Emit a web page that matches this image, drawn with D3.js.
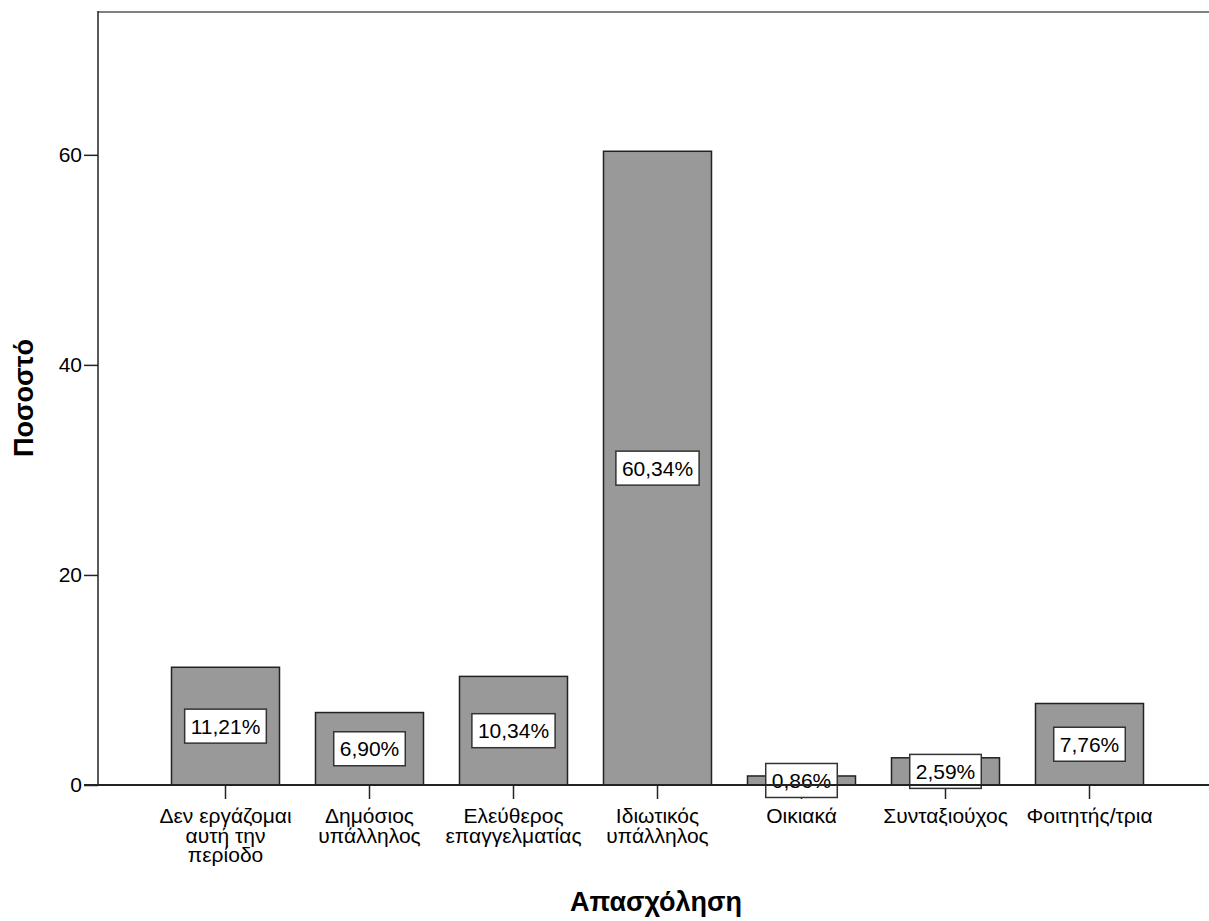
<!DOCTYPE html>
<html>
<head>
<meta charset="utf-8">
<script src="https://cdn.jsdelivr.net/npm/d3@7/dist/d3.min.js"></script>
<style>
  html, body { margin: 0; padding: 0; background: #fff; }
  svg { display: block; }
  text { font-family: "Liberation Sans", Arial, sans-serif; fill: #000; }
</style>
</head>
<body>
<svg id="chart" width="1209" height="921"></svg>
<script>
// Occupation categories (each line of a label is a separate entry)
const categories = [
  ["Δεν εργάζομαι", "αυτή την", "περίοδο"],
  ["Δημόσιος", "υπάλληλος"],
  ["Ελεύθερος", "επαγγελματίας"],
  ["Ιδιωτικός", "υπάλληλος"],
  ["Οικιακά"],
  ["Συνταξιούχος"],
  ["Φοιτητής/τρια"]
];
// Percentage of respondents per category
const values = [11.21, 6.90, 10.34, 60.34, 0.86, 2.59, 7.76];
const yTicks = [0, 20, 40, 60];
const xTitle = "Απασχόληση";
const yTitle = "Ποσοστό";

const svg = d3.select("#chart");
const W = 1209, H = 921;
const plotLeft = 98, plotTop = 12, base = 785;

const keys = categories.map(c => c.join(" "));
const x = d3.scaleBand()
  .domain(keys)
  .range([153.5, 1161.5])
  .paddingInner(0.25)
  .paddingOuter(0.125);
const y = d3.scaleLinear().domain([0, 73.6]).range([base, plotTop]);

const fmt = v => d3.format(".2f")(v).replace(".", ",") + "%";

// Frame: top border
svg.append("line")
  .attr("x1", plotLeft).attr("x2", W).attr("y1", plotTop).attr("y2", plotTop)
  .attr("stroke", "#808080").attr("stroke-width", 2);

// Y axis
const yAxis = d3.axisLeft(y).tickValues(yTicks).tickSize(14).tickPadding(2).tickFormat(d3.format("d"));
const gy = svg.append("g").attr("transform", `translate(${plotLeft},0)`).call(yAxis);
gy.select(".domain").remove();
gy.selectAll(".tick line").attr("stroke", "#222").attr("stroke-width", 1.5);
gy.selectAll(".tick text").style("font-size", "21px").attr("fill", "#000");
svg.append("line")
  .attr("x1", plotLeft).attr("x2", plotLeft).attr("y1", plotTop - 1).attr("y2", base)
  .attr("stroke", "#222").attr("stroke-width", 1.5);

// X axis ticks and multi-line category labels
const xAxis = d3.axisBottom(x).tickSize(14).tickFormat("");
const gx = svg.append("g").attr("transform", `translate(0,${base})`).call(xAxis);
gx.select(".domain").remove();
gx.selectAll(".tick line").attr("stroke", "#222").attr("stroke-width", 1.5);
gx.selectAll(".tick").each(function(d, i) {
  const t = d3.select(this).append("text")
    .attr("text-anchor", "middle")
    .style("font-size", "21px")
    .attr("fill", "#000");
  categories[i].forEach((line, j) => {
    t.append("tspan").attr("x", 0).attr("y", 38 + j * 19.5).text(line);
  });
});

// Bars
svg.append("g").selectAll("rect")
  .data(values)
  .join("rect")
  .attr("x", (d, i) => x(keys[i]))
  .attr("width", x.bandwidth())
  .attr("y", d => y(d))
  .attr("height", d => base - y(d))
  .attr("fill", "#999999")
  .attr("stroke", "#222")
  .attr("stroke-width", 1.5);

// Value labels in white boxes at the middle of each bar
const lbl = svg.append("g").selectAll("g")
  .data(values)
  .join("g")
  .attr("transform", (d, i) => `translate(${x(keys[i]) + x.bandwidth() / 2},${y(d / 2)})`);
lbl.each(function(d) {
  const g = d3.select(this);
  const r = g.append("rect");
  const t = g.append("text")
    .attr("text-anchor", "middle")
    .attr("dy", "0.36em")
    .style("font-size", "21px")
    .text(fmt(d));
  const bb = t.node().getBBox();
  r.attr("x", bb.x - 6).attr("y", -17).attr("width", bb.width + 12).attr("height", 34)
    .attr("fill", "#fff").attr("stroke", "#333").attr("stroke-width", 1.5);
});

// Baseline on top
svg.append("line")
  .attr("x1", plotLeft - 14).attr("x2", W).attr("y1", base).attr("y2", base)
  .attr("stroke", "#222").attr("stroke-width", 2);

// Axis titles
svg.append("text")
  .attr("x", 656).attr("y", 911)
  .attr("text-anchor", "middle")
  .style("font-size", "27px").style("font-weight", "bold")
  .text(xTitle);
svg.append("text")
  .attr("transform", `translate(33,398) rotate(-90)`)
  .attr("text-anchor", "middle")
  .style("font-size", "27px").style("font-weight", "bold")
  .text(yTitle);
</script>
</body>
</html>
